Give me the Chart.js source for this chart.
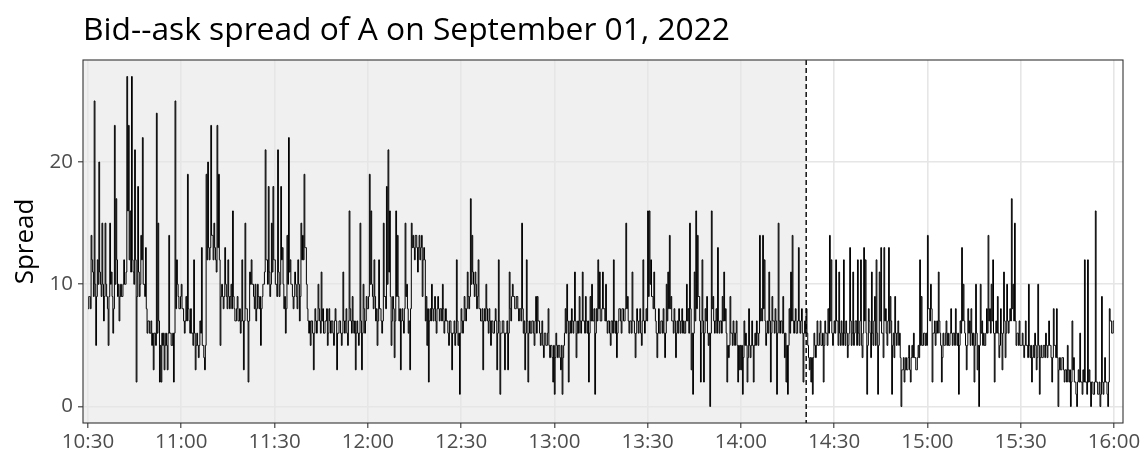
<!DOCTYPE html>
<html>
<head>
<meta charset="utf-8">
<title>Bid--ask spread of A</title>
<script src="https://cdn.jsdelivr.net/npm/chart.js@4.4.1/dist/chart.umd.min.js"></script>
<style>
  html, body { margin: 0; padding: 0; background: #ffffff; }
  canvas { display: block; }
</style>
</head>
<body>
<canvas id="spreadChart" width="1142" height="457"></canvas>
<script>
// Quoted bid--ask spread of A, one reading every 15 seconds, grouped by half hour.
const spread1030 = [8,9, 9,8, 14,12, 11,9, 25,10, 5,9, 12,10, 20,11, 10,9, 15,10,
                    7,9, 15,10, 9,8, 5,9, 15,10, 11,9, 6,8, 23,10, 17,12, 9,10,
                    7,9, 10,9, 9,10, 12,10, 10,11, 27,16, 23,12, 16,11, 27,12, 11,10,
                    21,12, 2,9, 18,11, 9,10, 14,12, 22,10, 10,9, 13,8, 6,7, 7,6,
                    6,7, 5,6, 3,6, 6,5, 24,6, 15,7, 2,5, 2,6, 5,6, 3,5,
                    6,5, 3,6, 14,6, 6,5, 5,6, 2,6, 25,8, 12,10, 9,8, 8,9];
const spread1100 = [10,8, 8,7, 6,7, 9,7, 19,8, 7,6, 8,6, 6,5, 12,6, 3,5,
                    6,5, 4,5, 7,6, 13,5, 5,4, 3,5, 19,12, 20,13, 12,13, 23,14,
                    14,12, 15,13, 12,11, 23,13, 19,12, 5,9, 10,9, 8,9, 13,10, 9,8,
                    12,9, 8,9, 10,8, 16,9, 8,7, 7,8, 9,7, 7,8, 6,7, 12,7,
                    3,7, 15,8, 8,7, 2,7, 11,10, 12,10, 10,9, 8,10, 7,8, 10,9,
                    8,9, 5,8, 9,10, 10,11, 21,12, 12,10, 18,11, 9,10, 15,11, 18,12];
const spread1130 = [12,10, 10,9, 21,11, 9,10, 18,12, 13,10, 8,9, 6,8, 14,10, 22,11,
                    12,10, 10,9, 8,9, 11,10, 9,8, 12,10, 7,9, 15,12, 14,12, 19,13,
                    13,10, 8,7, 6,7, 5,7, 7,6, 3,6, 8,7, 6,7, 10,8, 7,6,
                    11,7, 8,6, 6,7, 7,8, 5,6, 8,7, 6,7, 7,6, 5,7, 8,7,
                    3,6, 6,7, 7,6, 5,6, 11,7, 6,7, 8,6, 5,7, 16,8, 7,6,
                    9,7, 6,7, 3,6, 7,6, 5,6, 15,7, 3,6, 10,8, 6,7, 9,8];
const spread1200 = [8,9, 19,10, 16,10, 9,8, 12,9, 7,8, 5,7, 12,8, 8,7, 6,7,
                    15,9, 9,8, 18,10, 21,11, 16,9, 5,7, 9,8, 4,7, 16,9, 14,9,
                    7,8, 3,7, 8,7, 6,8, 15,9, 10,8, 6,7, 3,8, 15,13, 14,13,
                    12,14, 14,13, 11,13, 14,12, 13,14, 9,12, 13,12, 7,9, 5,8, 2,7,
                    8,7, 10,8, 7,8, 9,7, 6,8, 9,8, 7,8, 8,7, 10,8, 6,7,
                    8,7, 7,6, 5,7, 7,6, 3,6, 6,7, 5,6, 12,7, 5,6, 1,6];
const spread1230 = [8,7, 6,7, 9,8, 7,8, 11,9, 8,9, 17,10, 14,11, 10,9, 11,10,
                    8,9, 12,8, 8,7, 7,8, 3,7, 8,7, 10,8, 7,6, 8,7, 5,7,
                    7,6, 6,7, 8,7, 3,6, 12,7, 1,6, 6,7, 7,6, 3,6, 6,7,
                    3,6, 11,8, 7,9, 10,9, 9,8, 8,9, 9,8, 7,8, 8,7, 15,8,
                    6,7, 3,6, 12,7, 2,6, 7,6, 6,7, 7,6, 5,7, 9,6, 9,7,
                    7,6, 5,6, 7,5, 4,6, 6,5, 5,6, 8,5, 4,5, 5,4, 2,5];
const spread1300 = [1,4, 6,5, 4,5, 5,4, 3,5, 1,4, 5,6, 8,6, 10,7, 2,6,
                    7,6, 8,7, 6,7, 11,7, 4,6, 7,6, 9,7, 6,7, 11,7, 7,6,
                    9,7, 6,7, 2,6, 9,7, 10,7, 7,8, 1,6, 8,7, 12,8, 11,7,
                    7,8, 11,8, 8,7, 10,7, 6,7, 7,6, 5,7, 7,6, 12,7, 6,7,
                    4,6, 7,8, 8,7, 6,8, 8,7, 7,8, 15,8, 9,7, 6,7, 7,6,
                    11,7, 7,6, 4,6, 8,7, 6,7, 8,6, 5,7, 12,7, 6,7, 8,7];
const spread1330 = [16,9, 16,10, 12,9, 9,8, 11,8, 7,6, 4,6, 8,6, 6,7, 7,6,
                    8,6, 4,6, 10,7, 11,8, 14,8, 9,7, 7,6, 8,7, 4,6, 7,6,
                    8,7, 6,7, 8,6, 7,6, 6,7, 10,7, 8,6, 15,8, 3,6, 1,6,
                    11,7, 16,8, 14,9, 9,7, 2,6, 12,7, 2,6, 8,7, 9,6, 5,6,
                    0,6, 16,8, 9,7, 6,7, 8,6, 13,7, 6,7, 7,6, 9,7, 11,7,
                    8,6, 2,5, 4,5, 9,6, 6,5, 7,6, 5,6, 7,5, 2,5, 3,5];
const spread1400 = [3,5, 1,4, 7,5, 6,5, 2,4, 8,5, 4,5, 7,5, 2,5, 6,5,
                    7,6, 5,6, 14,7, 8,7, 14,8, 12,7, 5,6, 7,6, 11,7, 2,6,
                    9,7, 7,6, 8,7, 1,6, 15,7, 6,7, 7,6, 9,6, 4,6, 2,5,
                    1,5, 8,6, 11,7, 14,7, 6,7, 8,6, 6,7, 13,7, 6,7, 8,6,
                    2,6, 7,6, 8,6, 5,4, 3,4, 2,4, 1,4, 6,5, 4,5, 7,5,
                    5,6, 7,5, 5,6, 2,5, 7,6, 6,5, 8,6, 14,7, 12,6, 5,6];
const spread1430 = [7,6, 12,7, 7,5, 11,6, 5,7, 6,5, 12,6, 5,7, 6,4, 5,6,
                    13,7, 5,6, 11,5, 6,7, 7,5, 12,6, 5,7, 12,5, 4,6, 13,7,
                    12,6, 1,5, 8,7, 6,4, 11,6, 5,7, 9,5, 12,6, 1,5, 11,7,
                    13,6, 6,4, 13,7, 8,6, 5,7, 13,6, 9,7, 1,5, 6,4, 9,6,
                    5,6, 7,5, 6,4, 0,3, 3,4, 2,3, 4,3, 3,4, 5,3, 2,4,
                    5,4, 6,4, 4,3, 3,4, 5,4, 12,5, 9,5, 5,6, 6,5, 6,5];
const spread1500 = [14,8, 8,7, 10,8, 2,6, 6,7, 5,6, 7,6, 11,7, 6,5, 2,4,
                    6,5, 5,6, 7,5, 6,5, 5,6, 8,6, 5,6, 6,5, 8,6, 5,6,
                    1,5, 7,6, 13,7, 10,7, 6,5, 3,5, 8,6, 7,5, 8,6, 5,6,
                    2,5, 10,6, 3,5, 0,5, 10,6, 7,5, 6,5, 5,6, 8,6, 14,7,
                    8,6, 10,7, 12,6, 2,6, 7,6, 9,6, 4,5, 8,6, 3,6, 11,7,
                    4,6, 10,7, 6,7, 8,7, 17,8, 10,7, 15,7, 5,6, 6,5, 7,5];
// last half hour, closing reading at 16:00 included
const spread1530 = [5,5, 6,5, 4,5, 7,5, 5,4, 10,5, 4,5, 2,4, 5,4, 6,5,
                    3,4, 10,5, 1,4, 5,4, 4,5, 5,4, 6,5, 4,5, 7,5, 5,4,
                    2,4, 8,5, 5,4, 8,4, 0,3, 4,3, 3,4, 4,3, 2,3, 3,2,
                    5,3, 2,3, 0,2, 7,3, 4,2, 2,1, 0,2, 3,2, 6,2, 2,1,
                    3,2, 12,2, 2,1, 12,2, 3,2, 0,2, 2,1, 1,2, 16,2, 2,1,
                    1,2, 0,1, 9,2, 1,2, 4,2, 2,1, 0,2, 8,7, 7,6, 6,7,
                    7];

const sessionStart = '10:30';
const sampleStepMinutes = 0.25;
const timeTickLabels = ['10:30', '11:00', '11:30', '12:00', '12:30', '13:00',
                        '13:30', '14:00', '14:30', '15:00', '15:30', '16:00'];
const spreadTicks = [0, 10, 20];
const breakTime = '14:21';

function minutesFromStart(hhmm) {
  const [h, m] = hhmm.split(':').map(Number);
  const [h0, m0] = sessionStart.split(':').map(Number);
  return (h * 60 + m) - (h0 * 60 + m0);
}

const spreadSeries = [].concat(spread1030, spread1100, spread1130, spread1200,
                               spread1230, spread1300, spread1330, spread1400,
                               spread1430, spread1500, spread1530);
const spreadPoints = spreadSeries.map((v, i) => ({ x: i * sampleStepMinutes, y: v }));
const tickLabelByMinute = new Map(timeTickLabels.map(l => [minutesFromStart(l), l]));

// Shaded pre-break region, dashed break marker and the panel frame.
const panelDecor = {
  id: 'panelDecor',
  beforeDraw(chart) {
    const { ctx, chartArea: a, scales: { x } } = chart;
    const xb = x.getPixelForValue(minutesFromStart(breakTime));
    ctx.save();
    ctx.fillStyle = '#f0f0f0';
    ctx.fillRect(a.left, a.top, xb - a.left, a.bottom - a.top);
    ctx.restore();
  },
  afterDatasetsDraw(chart) {
    const { ctx, chartArea: a, scales: { x } } = chart;
    const xb = x.getPixelForValue(minutesFromStart(breakTime));
    ctx.save();
    ctx.strokeStyle = '#000000';
    ctx.lineWidth = 1.4;
    ctx.setLineDash([5, 3]);
    ctx.beginPath();
    ctx.moveTo(xb, a.top);
    ctx.lineTo(xb, a.bottom);
    ctx.stroke();
    ctx.setLineDash([]);
    ctx.strokeStyle = '#333333';
    ctx.lineWidth = 1.1;
    ctx.strokeRect(a.left, a.top, a.right - a.left, a.bottom - a.top);
    ctx.restore();
  }
};

Chart.defaults.font.family = "'Open Sans', 'Noto Sans', 'DejaVu Sans', sans-serif";

new Chart(document.getElementById('spreadChart'), {
  type: 'line',
  data: {
    datasets: [{
      label: 'Spread',
      data: spreadPoints,
      stepped: 'before',
      borderColor: '#000000',
      borderWidth: 1,
      pointRadius: 0,
      fill: false,
      tension: 0
    }]
  },
  options: {
    responsive: false,
    animation: false,
    devicePixelRatio: 1,
    layout: { padding: { left: 0, right: 19, top: 0, bottom: 0 } },
    plugins: {
      legend: { display: false },
      tooltip: { enabled: false },
      title: {
        display: true,
        text: 'Bid--ask spread of A on September 01, 2022',
        align: 'start',
        fullSize: false,
        color: '#000000',
        font: { size: 31.75, weight: 'normal' },
        padding: { top: 12, bottom: 9.9 }
      }
    },
    scales: {
      x: {
        type: 'linear',
        min: -1.6,
        max: 332.9,
        afterBuildTicks(scale) {
          scale.ticks = timeTickLabels.map(l => ({ value: minutesFromStart(l) }));
        },
        afterFit(scale) {
          scale.height = 34;
          scale.paddingLeft = 0;
          scale.paddingRight = 0;
        },
        ticks: {
          autoSkip: false,
          maxRotation: 0,
          padding: 1.5,
          color: '#4d4d4d',
          font: { size: 20.5 },
          callback: v => tickLabelByMinute.get(v) ?? ''
        },
        grid: {
          color: '#e6e6e6',
          lineWidth: 1.6,
          drawTicks: true,
          tickLength: 5,
          tickColor: '#333333',
          tickWidth: 1.1
        },
        border: { display: false }
      },
      y: {
        min: -1.35,
        max: 28.35,
        afterBuildTicks(scale) {
          scale.ticks = spreadTicks.map(v => ({ value: v }));
        },
        afterFit(scale) {
          scale.width = 83;
          scale.paddingTop = 0;
          scale.paddingBottom = 0;
        },
        ticks: {
          padding: 5,
          color: '#4d4d4d',
          font: { size: 20.5 }
        },
        grid: {
          color: '#e6e6e6',
          lineWidth: 1.6,
          drawTicks: true,
          tickLength: 5,
          tickColor: '#333333',
          tickWidth: 1.1
        },
        border: { display: false },
        title: {
          display: true,
          text: 'Spread',
          color: '#000000',
          font: { size: 26 },
          padding: { top: 9.5, bottom: 0 }
        }
      }
    }
  },
  plugins: [panelDecor]
});
</script>
</body>
</html>
